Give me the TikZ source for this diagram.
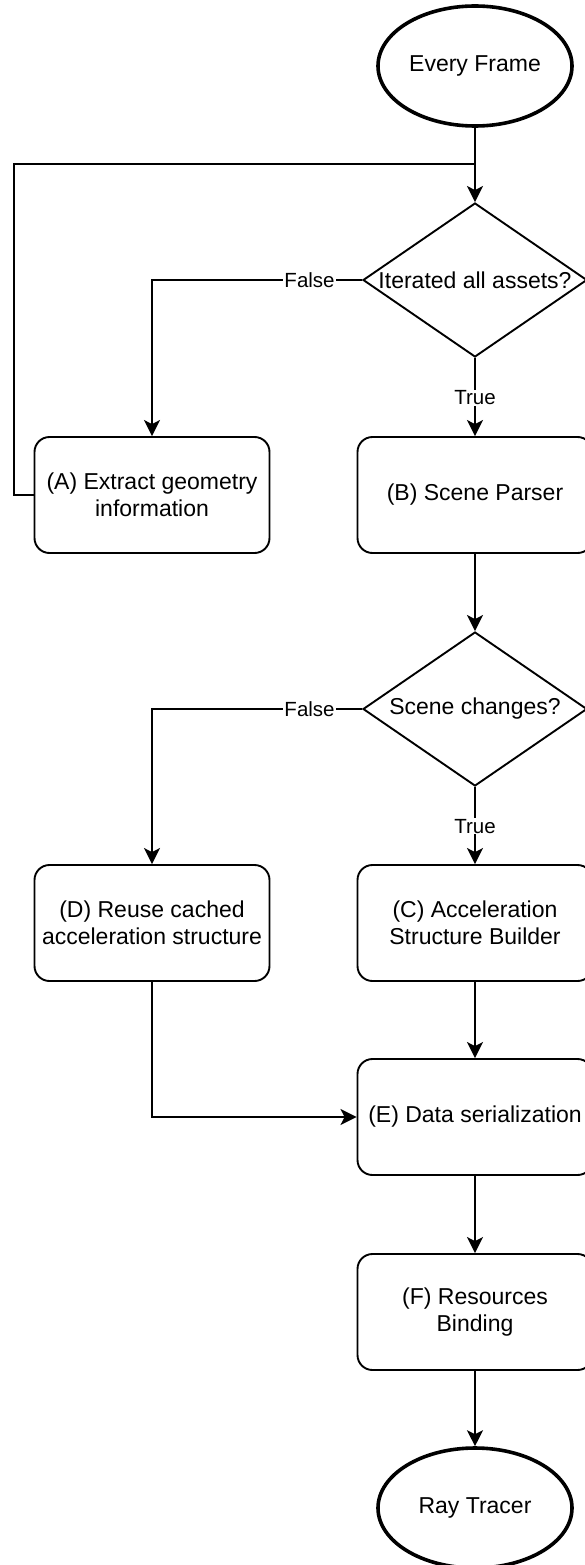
\documentclass[tikz,border=0pt]{standalone}
\usepackage{fontspec}
\setmainfont{Liberation Sans}
\usetikzlibrary{shapes.geometric,arrows.meta}
\begin{document}
\begin{tikzpicture}[x=1pt,y=-1pt,
  every node/.style={font=\fontsize{23}{27}\selectfont},
  terminal/.style={ellipse,draw,line width=3.6pt,minimum width=194pt,minimum height=120pt,inner sep=0pt},
  procbox/.style={rectangle,draw,line width=1.9pt,rounded corners=15pt,minimum width=235pt,minimum height=116pt,align=center,inner sep=2pt},
  decision/.style={diamond,draw,line width=1.9pt,minimum width=224pt,minimum height=154pt,inner sep=0pt},
  flow/.style={line width=1.9pt,-{Stealth[length=16pt,width=16pt,inset=4pt]}},
  plain/.style={line width=1.9pt},
  lbl/.style={fill=white,inner sep=1pt,font=\fontsize{20.5}{24}\selectfont}]
\useasboundingbox (0,0) rectangle (584,1565);
\node[terminal] (ef) at (475,66) {Every Frame};
\node[decision] (d1) at (475,280) {\makebox[0pt]{Iterated all assets?}};
\node[procbox] (A) at (152,495) {(A) Extract geometry\\information};
\node[procbox] (B) at (475,495) {(B) Scene Parser};
\node[decision] (d2) at (475,709) {\makebox[0pt]{Scene changes?}};
\node[procbox] (D) at (152,923) {(D) Reuse cached\\acceleration structure};
\node[procbox] (C) at (475,923) {(C) Acceleration\\Structure Builder};
\node[procbox] (E) at (475,1117) {(E) Data serialization};
\node[procbox] (F) at (475,1312) {(F) Resources\\Binding};
\node[terminal] (rt) at (475,1508) {Ray Tracer};
\coordinate (j) at (475,164);
\draw[flow] (ef) -- (d1);
\draw[plain] (A.west) -- ++(-20,0) |- (j);
\draw[flow] (d1.west) -| node[lbl,pos=0.125] {False} (A.north);
\draw[flow] (d1.south) -- node[lbl,pos=0.51] {True} (B.north);
\draw[flow] (B) -- (d2);
\draw[flow] (d2.west) -| node[lbl,pos=0.125] {False} (D.north);
\draw[flow] (d2.south) -- node[lbl,pos=0.51] {True} (C.north);
\draw[flow] (C) -- (E);
\draw[flow] (D.south) |- (E.west);
\draw[flow] (E) -- (F);
\draw[flow] (F) -- (rt);
\end{tikzpicture}
\end{document}
